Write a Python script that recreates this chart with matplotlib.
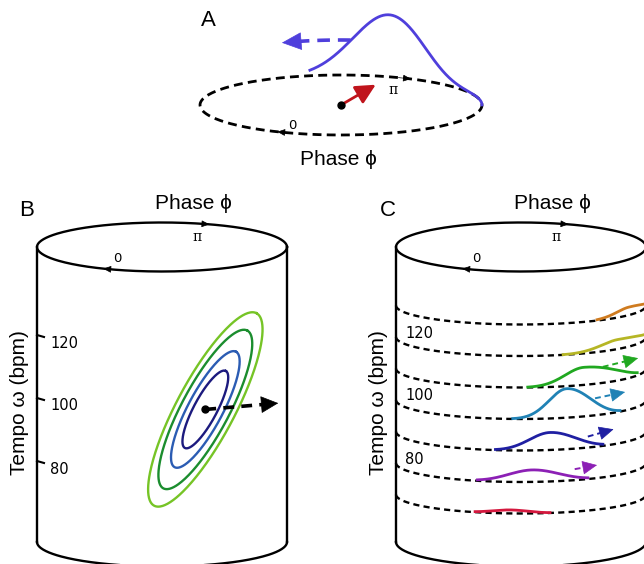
import numpy as np
import matplotlib
matplotlib.use('Agg')
import matplotlib.pyplot as plt

plt.rcParams['font.family'] = ['Liberation Sans', 'DejaVu Sans']

# ---- panel A: phase distribution on the circle
a_peak_phase = np.pi
a_sigma = 0.26
a_height = 62                 # peak height (px)
a_phase_range = [2.57, 4.36]
a_drift = [2.86, 2.36]        # dashed arrow, phase from -> to
a_drift_height = 35
a_mean_len = 0.72             # resultant vector length

# ---- panel B: joint phase / tempo density
tempo_ticks = [80, 100, 120]
b_center = [5.56, 97]         # phase, tempo (bpm)
b_levels = [0.4, 0.6, 0.82, 1.0]
b_level_colors = ['#1c1a7e', '#2b5cb3', '#1b8d2e', '#76c426']
b_drift_to = [4.72, 99]

# ---- panel C: phase distribution for each tempo
c_tempos = [130, 120, 110, 100, 90, 80, 70]
c_peak = [4.88, 5.03, 5.39, 5.54, 5.68, 5.82, 6.00]
c_amp = [8, 9.5, 17.6, 29, 17.5, 12, 3.5]
c_sig_hi = [0.18, 0.20, 0.17, 0.15, 0.17, 0.20, 0.15]
c_sig_lo = [0.35, 0.50, 0.35, 0.21, 0.22, 0.22, 0.15]
c_start = [5.26, 5.57, 5.86, 5.98, 6.12, 6.27, 6.29]
c_end = [4.34, 4.34, 4.72, 5.00, 5.20, 5.35, 5.68]
c_colors = ['#cf7b1f', '#b6b625', '#20a820', '#2082b5', '#1f1fa2', '#8c20b5', '#d4183e']
c_arrow_tempo = [110, 100, 90, 80]
c_arrow_from = [5.20, 5.28, 5.35, 5.47]
c_arrow_to = [4.70, 4.93, 5.08, 5.26]
c_arrow_h0 = [16, 17, 11, 11]
c_arrow_h1 = [17, 18.5, 15, 13]


fig = plt.figure(figsize=(6.44, 5.64), dpi=100)
ax = fig.add_axes([0, 0, 1, 1])
ax.set_xlim(0, 644)
ax.set_ylim(564, 0)
ax.axis('off')


def rim(cx, cy, a, b, phi, phi0):
    t = -(np.asarray(phi) + phi0)
    return cx + a * np.cos(t), cy - b * np.sin(t)


def tempo_y(t):
    return 400 - (np.asarray(t) - 100) * 3.15


def head(p0, p1, color, size, hl=0.5, hw=0.25):
    ax.annotate('', xy=p1, xytext=p0,
                arrowprops=dict(arrowstyle='-|>,head_length=%g,head_width=%g' % (hl, hw),
                                color=color, lw=0.5, mutation_scale=size,
                                shrinkA=0, shrinkB=0), zorder=6)


def rim_tip(cx, cy, a, b, phi, phi0, size=6):
    p0 = rim(cx, cy, a, b, phi - 0.08, phi0)
    p1 = rim(cx, cy, a, b, phi + 0.02, phi0)
    head(p0, p1, 'k', size, 0.8, 0.35)


def cylinder(cx, top=247, bot=542, a=125, b=24.5):
    t = np.linspace(0, 2 * np.pi, 300)
    ax.plot(cx + a * np.cos(t), top - b * np.sin(t), color='k', lw=1.7)
    ax.plot([cx - a, cx - a], [top, bot], color='k', lw=1.7)
    ax.plot([cx + a, cx + a], [top, bot], color='k', lw=1.7)
    t = np.linspace(-np.pi, 0, 150)
    ax.plot(cx + a * np.cos(t), bot - b * np.sin(t), color='k', lw=1.7)
    # phase labels on the lid
    rim_tip(cx, top, a, b, 0.1, 1.94)
    rim_tip(cx, top, a, b, np.pi, 1.94)
    x0, y0 = rim(cx, top, a, b, 0, 1.94)
    ax.text(x0, y0 - 11, '0', fontsize=9.5, ha='center', va='center', family='DejaVu Sans')
    xp, yp = rim(cx, top, a, b, np.pi, 1.94)
    ax.text(xp - 10, yp + 13, 'π', fontsize=10, ha='center', va='center',
            family='DejaVu Serif')


# ================= A
cA, yA, aA, bA, p0A = 341, 105, 141, 30, 1.92
ph = np.linspace(0, 2 * np.pi, 400)
x, y = rim(cA, yA, aA, bA, ph, p0A)
ax.plot(x, y, color='k', lw=2, ls=(0, (3.2, 1.9)))
rim_tip(cA, yA, aA, bA, 0.1, p0A)
rim_tip(cA, yA, aA, bA, np.pi + 0.15, p0A)

ph = np.linspace(a_phase_range[0], a_phase_range[1], 300)
x, y = rim(cA, yA, aA, bA, ph, p0A)
y = y - a_height * np.exp(-(ph - a_peak_phase) ** 2 / (2 * a_sigma ** 2))
ax.plot(x, y, color='#4f3fdc', lw=2, zorder=4)

ph = np.linspace(a_drift[0], a_drift[1] + 0.1, 60)
x, y = rim(cA, yA, aA, bA, ph, p0A)
ax.plot(x, y - a_drift_height, color='#4f3fdc', lw=2.6, ls=(0, (3.5, 2.2)))
hx0, hy0 = rim(cA, yA, aA, bA, a_drift[1] + 0.12, p0A)
hx1, hy1 = rim(cA, yA, aA, bA, a_drift[1], p0A)
head((hx0, hy0 - a_drift_height), (hx1, hy1 - a_drift_height), '#4f3fdc', 24, 0.55, 0.25)

px, py = rim(cA, yA, aA, bA, a_peak_phase, p0A)
ex, ey = cA + a_mean_len * (px - cA), yA + a_mean_len * (py - yA)
ax.annotate('', xy=(ex, ey), xytext=(cA, yA),
            arrowprops=dict(arrowstyle='-|>,head_length=0.6,head_width=0.3',
                            color='#c0141c', lw=2, mutation_scale=20,
                            shrinkA=0, shrinkB=0))
ax.plot(cA, yA, 'o', color='k', ms=5, zorder=7)

x0, y0 = rim(cA, yA, aA, bA, 0, p0A)
ax.text(x0, y0 - 8, '0', fontsize=9.5, ha='center', va='center', family='DejaVu Sans')
ax.text(px + 4, py + 13, 'π', fontsize=10, ha='center', va='center', family='DejaVu Serif')
ax.text(208, 20, 'A', fontsize=16, ha='center', va='center')
ax.text(338, 165, 'Phase ϕ', fontsize=15, ha='center', va='baseline')

# ================= B
cB = 162
cylinder(cB)
ax.text(27, 210, 'B', fontsize=16, ha='center', va='center')
ax.text(193, 209, 'Phase ϕ', fontsize=15, ha='center', va='baseline')
ax.text(20, 403, 'Tempo ω (bpm)', fontsize=15, ha='center', va='center', rotation=90)
for t in tempo_ticks:
    ty = tempo_y(t) - 2
    ax.plot([cB - 125, cB - 118], [ty, ty + 2], color='k', lw=1.5)
    ax.text(50, ty + 8, str(t), fontsize=10.5, ha='left', va='center', family='DejaVu Sans')

bx, by = rim(cB, 0, 125, 0, b_center[0], 1.94)
by = tempo_y(b_center[1])
th = np.deg2rad(62)
u = np.array([np.cos(th), -np.sin(th)])
v = np.array([np.sin(th), np.cos(th)])
tau = np.linspace(0, 2 * np.pi, 300)
for s, col in zip(b_levels, b_level_colors):
    ex = bx + 109 * s * np.cos(tau) * u[0] + 29 * s * np.sin(tau) * v[0]
    ey = by + 109 * s * np.cos(tau) * u[1] + 29 * s * np.sin(tau) * v[1]
    ax.plot(ex, ey, color=col, lw=1.7)
dx, _ = rim(cB, 0, 125, 0, b_drift_to[0], 1.94)
dy = tempo_y(b_drift_to[1])
ax.plot([bx, bx + 0.8 * (dx - bx)], [by, by + 0.8 * (dy - by)], color='k', lw=2.6,
        ls=(0, (3, 2)), zorder=5)
head((bx + 0.78 * (dx - bx), by + 0.78 * (dy - by)), (dx, dy), 'k', 21, 0.55, 0.27)
ax.plot(bx, by, 'o', color='k', ms=5, zorder=7)

# ================= C
cC = 521
cylinder(cC)
ax.text(388, 210, 'C', fontsize=16, ha='center', va='center')
ax.text(552, 209, 'Phase ϕ', fontsize=15, ha='center', va='baseline')
ax.text(379, 403, 'Tempo ω (bpm)', fontsize=15, ha='center', va='center', rotation=90)
for t in tempo_ticks:
    ax.text(405, tempo_y(t) - 4, str(t), fontsize=10.5, ha='left', va='center',
            family='DejaVu Sans')

tt = np.linspace(-np.pi, 0, 200)
for i, t in enumerate(c_tempos):
    ry = tempo_y(t)
    ax.plot(cC + 125 * np.cos(tt), ry - 19 * np.sin(tt), color='k', lw=1.7,
            ls=(0, (2.6, 1.8)), zorder=3)
    ph = np.linspace(c_start[i], c_end[i], 200)
    sig = np.where(ph > c_peak[i], c_sig_hi[i], c_sig_lo[i])
    x, y = rim(cC, ry, 125, 19, ph, 1.94)
    y = y - c_amp[i] * np.exp(-(ph - c_peak[i]) ** 2 / (2 * sig ** 2))
    ax.plot(x, y, color=c_colors[i], lw=2, zorder=4)

for i, t in enumerate(c_arrow_tempo):
    col = c_colors[c_tempos.index(t)]
    ry = tempo_y(t)
    x0, y0 = rim(cC, ry, 125, 19, c_arrow_from[i], 1.94)
    x1, y1 = rim(cC, ry, 125, 19, c_arrow_to[i], 1.94)
    y0, y1 = y0 - c_arrow_h0[i], y1 - c_arrow_h1[i]
    ax.plot([x0, x0 + 0.75 * (x1 - x0)], [y0, y0 + 0.75 * (y1 - y0)], color=col,
            lw=1.4, ls=(0, (3, 2)), zorder=5)
    head((x0 + 0.7 * (x1 - x0), y0 + 0.7 * (y1 - y0)), (x1, y1), col, 16, 0.6, 0.28)

fig.savefig('out.png', dpi=100)
